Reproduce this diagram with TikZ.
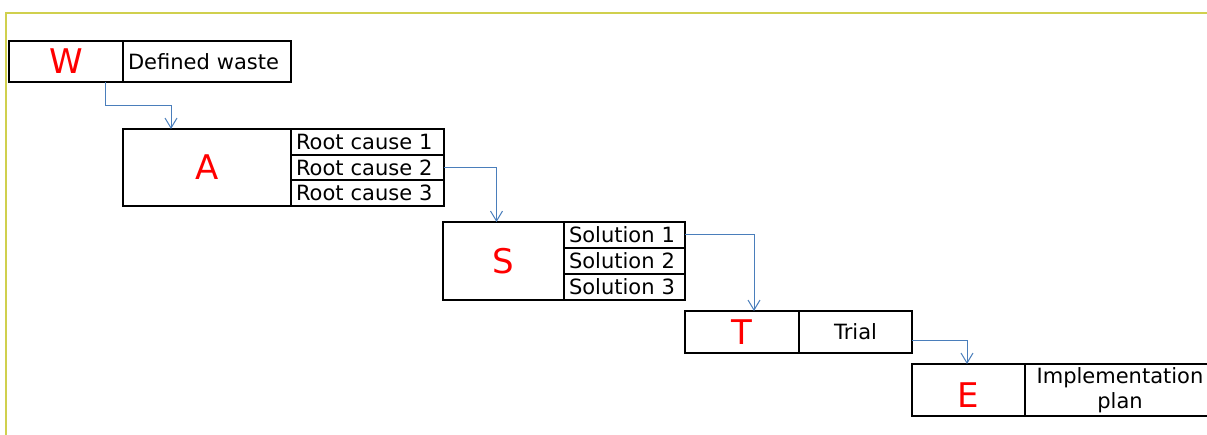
\documentclass[tikz,border=0pt]{standalone}
\usepackage{fontspec}
\setmainfont{DejaVu Sans}
\usepackage{tikz}
\usetikzlibrary{arrows.meta,positioning,calc}

\definecolor{framegreen}{RGB}{208,208,78}
\definecolor{flowblue}{RGB}{74,126,187}

\begin{document}
\begin{tikzpicture}[x=1pt, y=-1pt,
        keybox/.style={draw, line width=2pt, text=red, inner sep=0pt, outer sep=0pt,
        anchor=north west, font=\fontsize{34}{34}\selectfont},
        cellbox/.style={draw, line width=2pt, inner xsep=5pt, inner ysep=0pt, outer sep=0pt,
        anchor=north west, align=left, font=\fontsize{21}{24.5}\selectfont},
        flow/.style={draw=flowblue, line width=1pt,
        -{Straight Barb[length=10pt, width=12pt]}}]
    \useasboundingbox (0,0) rectangle (1207,435);
    \draw[framegreen, line width=2pt] (6,440) -- (6,13) -- (1215,13);

    % W
    \node[keybox, minimum width=114pt, minimum height=41pt] (nodeW) at (9,41) {W};
    \node[cellbox, minimum height=41pt, text width=158pt, right=0pt of nodeW] (nodeWaste) {Defined waste};

    % A
    \node[keybox, minimum width=168pt, minimum height=77pt] (nodeA) at (123,129) {A};
    \node[cellbox, minimum height=25.67pt, text width=143pt] (nodeRc1) at (nodeA.north east) {Root cause 1};
    \node[cellbox, minimum height=25.67pt, text width=143pt, below=0pt of nodeRc1] (nodeRc2) {Root cause 2};
    \node[cellbox, minimum height=25.67pt, text width=143pt, below=0pt of nodeRc2] (nodeRc3) {Root cause 3};

    % S
    \node[keybox, minimum width=121pt, minimum height=78pt] (nodeS) at (443,222) {S};
    \node[cellbox, minimum height=26pt, text width=111pt] (nodeSol1) at (nodeS.north east) {Solution 1};
    \node[cellbox, minimum height=26pt, text width=111pt, below=0pt of nodeSol1] (nodeSol2) {Solution 2};
    \node[cellbox, minimum height=26pt, text width=111pt, below=0pt of nodeSol2] (nodeSol3) {Solution 3};

    % T
    \node[keybox, minimum width=114pt, minimum height=42pt] (nodeT) at (685,311) {T};
    \node[cellbox, minimum height=42pt, text width=103pt, align=center, right=0pt of nodeT] (nodeTrial) {Trial};

    % E
    \node[keybox, minimum width=113pt, minimum height=52pt, text height=34.8pt] (nodeE) at (912,364) {E};
    \node[cellbox, minimum height=52pt, text width=180pt, align=center, right=0pt of nodeE] (nodePlan) {Implementation\\plan};

    \draw[flow] ([xshift=39pt]nodeW.south) -- ++(0,24) -| ([xshift=-36pt]nodeA.north);
    \draw[flow] (nodeRc2.east) -| ([xshift=-7pt]nodeS.north);
    \draw[flow] (nodeSol1.east) -| ([xshift=12pt]nodeT.north);
    \draw[flow] ([yshift=-9pt]nodeTrial.east) -| ([xshift=-1.5pt]nodeE.north);
\end{tikzpicture}
\end{document}
